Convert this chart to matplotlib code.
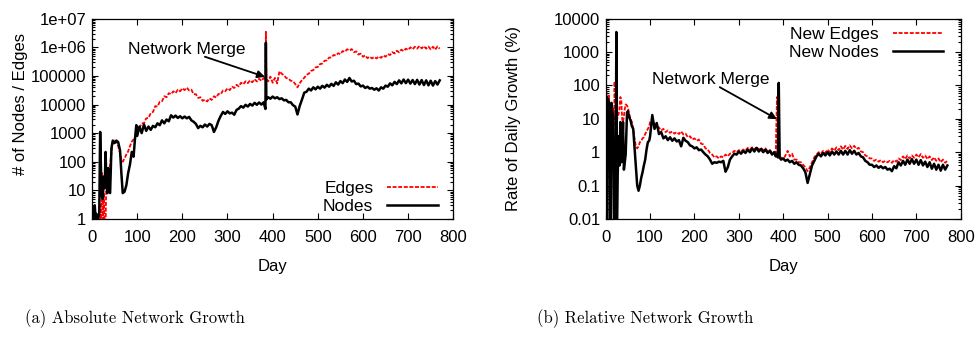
import numpy as np
import matplotlib
matplotlib.use("Agg")
import matplotlib.pyplot as plt
from matplotlib.ticker import FixedLocator, LogLocator, NullFormatter

plt.rcParams['font.family'] = ['Liberation Sans', 'DejaVu Sans']
plt.rcParams['font.size'] = 12

# ---- (a) absolute growth: total nodes / edges per day ----
early_a = [0, 2, 4, 6, 8, 10, 12, 14, 16, 18, 20, 22, 24, 26, 28, 30, 32, 34, 36,
           38, 40, 43, 46, 50, 54, 58, 62, 65, 68, 72, 76, 80, 84, 88, 92, 95, 98]
days_a = np.concatenate([early_a, np.arange(100, 381, 5), [384, 385, 386],
                         np.arange(390, 771, 5)])

edges = [0.3, 0.3, 0.3, 0.3, 0.3, 0.3, 0.3, 0.3, 0.3, 3, 0.4, 40, 0.5, 8, 0.4,
         0.5, 60, 30, 50, 40, 80, 200, 500, 550, 500, 350, 200, 120, 100, 130,
         180, 230, 350, 500, 600, 700, 900,
         # day 100 - 380
         1400, 1500, 2200, 2200, 3300, 3400, 5000, 5500, 8800, 8500,
         12500, 13000, 19500, 18000, 25000, 23000, 29000, 25000, 33000, 29000,
         37000, 32000, 39000, 31000, 33000, 23000, 23000, 17000, 18000, 13500,
         14800, 12800, 16500, 14500, 19500, 17500, 23500, 23000, 31000, 29000,
         37000, 32000, 42000, 38000, 49000, 43000, 58000, 51000, 65000, 56000,
         70000, 60000, 77000, 64000, 80000, 67000, 85000,
         # merge
         72000, 3.5e6, 80000,
         # day 390 - 770
         65000, 95000, 58000, 85000, 55000, 145000, 120000, 105000, 85000, 80000,
         68000, 66000, 52000, 40000, 56000, 72000, 86000, 110000, 120000, 150000,
         160000, 200000, 205000, 260000, 270000, 340000, 350000, 440000, 440000, 540000,
         520000, 620000, 580000, 740000, 700000, 860000, 770000, 870000, 680000, 720000,
         560000, 600000, 470000, 520000, 420000, 470000, 410000, 460000, 410000, 480000,
         430000, 520000, 470000, 580000, 540000, 680000, 610000, 760000, 670000, 830000,
         740000, 900000, 810000, 1.0e6, 860000, 1.05e6, 900000, 1.12e6, 920000, 1.1e6,
         900000, 1.07e6, 850000, 1.05e6, 830000, 1.08e6, 900000]

nodes = [2, 1, 1.3, 3, 1, 1.5, 0.8, 1.2, 1.5, 1100, 40, 6, 5, 30, 12, 220, 15,
         8, 60, 9, 8, 300, 550, 450, 550, 480, 250, 40, 8, 9, 15, 40, 80, 220,
         150, 600, 1900,
         # day 100 - 380
         800, 1700, 1000, 2000, 1200, 1700, 1300, 1800, 1600, 2200,
         1900, 2800, 2200, 3000, 2600, 4200, 3500, 4100, 3400, 3900,
         3300, 3800, 3300, 3700, 2800, 2500, 2100, 1500, 1800, 1600,
         2000, 1700, 2100, 1900, 1100, 1600, 2700, 4000, 5500, 4700,
         5800, 4900, 5200, 4400, 6500, 7200, 8800, 7800, 9800, 8500,
         10500, 9200, 11500, 9800, 11800, 10000, 12000,
         # merge
         7000, 1.45e6, 15000,
         # day 390 - 770
         18000, 16000, 19000, 16500, 18000, 15500, 16500, 14000, 14500, 12000,
         12000, 9500, 8500, 4500, 9000, 15000, 26000, 28000, 36000, 31000,
         40000, 34000, 42000, 36000, 45000, 39000, 49000, 42000, 53000, 45000,
         60000, 50000, 66000, 56000, 75000, 62000, 85000, 64000, 68000, 52000,
         54000, 43000, 46000, 38000, 42000, 36000, 38000, 33000, 37000, 31000,
         40000, 36000, 46000, 42000, 55000, 47000, 62000, 52000, 70000, 55000,
         75000, 56000, 74000, 54000, 72000, 52000, 73000, 50000, 72000, 48000,
         70000, 47000, 68000, 46000, 66000, 50000, 70000]

# ---- (b) relative growth: daily growth rate in percent ----
early_b = [0, 2, 3, 5, 7, 9, 11, 13, 15, 17, 19, 20, 22, 24, 25, 27, 29, 31, 33,
           35, 37, 39, 41, 43, 45, 48, 50, 53, 56, 59, 62, 65, 68, 71, 74, 77, 80,
           83, 86, 89, 92, 95, 98]
days_b = np.concatenate([early_b, np.arange(100, 381, 5), [383, 386, 388, 390, 392],
                         np.arange(395, 771, 5)])

new_edges = [100, 70, 0.003, 30, 50, 20, 12, 30, 9, 20, 10, 130, 6, 15, 8, 12, 14,
             20, 45, 38, 10, 8, 12, 20, 27, 25, 22, 14, 10, 8, 5, 2.5, 1.5, 1.3,
             1.5, 2, 2.2, 2.6, 2.8, 3.5, 4.2, 5, 6,
             # day 100 - 380
             8, 10, 7, 6, 5.5, 4.5, 5, 4, 4.5, 3.8,
             4.2, 3.6, 4, 3.5, 4.2, 3.4, 3.6, 2.8, 3, 2.4,
             2.6, 2.2, 2.4, 1.8, 1.7, 1.3, 1.2, 0.95, 0.85, 0.7,
             0.75, 0.65, 0.75, 0.7, 0.85, 0.75, 0.9, 0.95, 1.1, 1.0,
             1.15, 1.05, 1.2, 1.1, 1.35, 1.2, 1.4, 1.2, 1.45, 1.2,
             1.35, 1.15, 1.3, 1.05, 1.15, 0.95, 1.0,
             # merge
             0.8, 45, 0.7, 0.75, 0.65,
             # day 395 - 770
             0.7, 0.6, 0.8, 1.1, 0.75, 0.9, 0.6, 0.6, 0.5, 0.5,
             0.42, 0.35, 0.27, 0.35, 0.5, 0.7, 0.85, 1.0, 0.9, 1.1,
             0.95, 1.2, 1.0, 1.3, 1.1, 1.4, 1.15, 1.5, 1.2, 1.55,
             1.25, 1.6, 1.3, 1.55, 1.25, 1.35, 1.05, 1.0, 0.8, 0.75,
             0.65, 0.65, 0.55, 0.6, 0.52, 0.58, 0.5, 0.55, 0.5, 0.55,
             0.48, 0.58, 0.52, 0.65, 0.58, 0.75, 0.62, 0.8, 0.65, 0.8,
             0.68, 0.85, 0.7, 0.88, 0.68, 0.8, 0.62, 0.75, 0.58, 0.7,
             0.55, 0.65, 0.5, 0.6, 0.48, 0.55]

new_nodes = [55, 45, 0.001, 40, 30, 28, 0.001, 30, 15, 12, 0.001, 0.001, 0.001,
             4000, 0.001, 0.2, 3, 0.4, 8, 0.5, 1, 8, 0.3, 0.5, 0.85, 15, 17, 11,
             9, 6, 5, 1.4, 0.4, 0.1, 0.07, 0.1, 0.17, 0.25, 0.4, 0.6, 1.2, 2, 2.2,
             # day 100 - 380
             3, 13, 5, 7.5, 3.5, 4, 2.6, 3, 2.3, 2.8,
             2.2, 2.6, 2.1, 2.3, 1.5, 2.7, 2.2, 2.0, 1.6, 1.5,
             1.3, 1.4, 1.15, 1.2, 1.0, 0.85, 0.75, 0.6, 0.45, 0.5,
             0.48, 0.52, 0.5, 0.55, 0.26, 0.35, 0.6, 0.75, 0.9, 0.85,
             1.05, 0.9, 1.1, 0.95, 1.2, 1.0, 1.3, 1.05, 1.35, 1.05,
             1.25, 1.0, 1.2, 0.95, 1.1, 0.85, 1.0,
             # merge
             0.75, 0.9, 0.7, 120, 0.7,
             # day 395 - 770
             0.6, 0.65, 0.55, 0.6, 0.5, 0.55, 0.45, 0.5, 0.42, 0.4,
             0.33, 0.25, 0.12, 0.22, 0.4, 0.55, 0.75, 0.9, 0.75, 0.95,
             0.8, 1.0, 0.8, 1.05, 0.85, 1.05, 0.85, 1.1, 0.85, 1.1,
             0.85, 1.15, 0.9, 1.1, 0.85, 0.95, 0.75, 0.7, 0.55, 0.5,
             0.42, 0.42, 0.36, 0.4, 0.34, 0.38, 0.33, 0.36, 0.3, 0.32,
             0.27, 0.38, 0.33, 0.5, 0.4, 0.55, 0.42, 0.6, 0.45, 0.62,
             0.45, 0.6, 0.42, 0.58, 0.4, 0.52, 0.36, 0.5, 0.32, 0.45,
             0.3, 0.42, 0.28, 0.42, 0.3, 0.4]

abs_ticks = [1, 10, 100, 1000, 1e4, 1e5, 1e6, 1e7]
abs_labels = ['1', '10', '100', '1000', '10000', '100000', '1e+06', '1e+07']
rel_ticks = [0.01, 0.1, 1, 10, 100, 1000, 10000]
rel_labels = ['0.01', '0.1', '1', '10', '100', '1000', '10000']
day_ticks = [0, 100, 200, 300, 400, 500, 600, 700, 800]

red_style = dict(color='#ff0000', lw=1.3, linestyle=(0, (2.2, 0.9)))
black_style = dict(color='black', lw=1.8)
arrow = dict(arrowstyle='-|>', color='black', lw=1.3, mutation_scale=11,
             shrinkA=0, shrinkB=0)


def style_axis(ax, ticks, labels, ylim):
    ax.set_yscale('log')
    ax.set_xlim(0, 800)
    ax.set_ylim(*ylim)
    ax.xaxis.set_major_locator(FixedLocator(day_ticks))
    ax.yaxis.set_major_locator(FixedLocator(ticks))
    ax.set_yticklabels(labels)
    ax.yaxis.set_minor_locator(LogLocator(base=10, subs=np.arange(2, 10), numticks=20))
    ax.yaxis.set_minor_formatter(NullFormatter())
    ax.tick_params(which='both', direction='in', top=True, right=True, width=0.8)
    ax.tick_params(which='major', length=4, labelsize=12)
    ax.tick_params(which='minor', length=2)
    ax.tick_params(axis='x', pad=8)
    ax.tick_params(axis='y', pad=4)
    for s in ax.spines.values():
        s.set_linewidth(0.9)
    ax.set_xlabel('Day', labelpad=10)


fig = plt.figure(figsize=(9.79, 3.41), dpi=100)
ax1 = fig.add_axes([0.094, 0.358, 0.369, 0.587])
ax2 = fig.add_axes([0.6187, 0.358, 0.3626, 0.587])

ax1.plot(days_a, edges, label='Edges', **red_style)
ax1.plot(days_a, nodes, label='Nodes', **black_style)
style_axis(ax1, abs_ticks, abs_labels, (1, 1e7))
ax1.set_ylabel('# of Nodes / Edges')
ax1.yaxis.set_label_coords(-0.178, 0.575)
ax1.text(80, 8.3e5, 'Network Merge', ha='left', va='center', fontsize=12.5)
ax1.annotate('', xy=(383, 9.3e4), xytext=(250, 4.7e5), arrowprops=arrow)
ax1.legend(loc='lower right', bbox_to_anchor=(0.99, -0.035), frameon=False,
           markerfirst=False, handlelength=2.9, handletextpad=0.8,
           labelspacing=0.15, borderpad=0.2, fontsize=12.5)

ax2.plot(days_b, new_edges, label='New Edges', **red_style)
ax2.plot(days_b, new_nodes, label='New Nodes', **black_style)
style_axis(ax2, rel_ticks, rel_labels, (0.01, 1e4))
ax2.set_ylabel('Rate of Daily Growth (%)')
ax2.yaxis.set_label_coords(-0.239, 0.5)
ax2.text(104, 155, 'Network Merge', ha='left', va='center', fontsize=12.5)
ax2.annotate('', xy=(386, 9.8), xytext=(257, 89), arrowprops=arrow)
ax2.legend(loc='upper right', bbox_to_anchor=(0.985, 1.02), frameon=False,
           markerfirst=False, handlelength=2.9, handletextpad=0.8,
           labelspacing=0.15, borderpad=0.2, fontsize=12.5)

fig.text(0.138, 0.065, '(a) Absolute Network Growth', family='cmr10',
         fontsize=12, ha='center', va='center')
fig.text(0.659, 0.065, '(b) Relative Network Growth', family='cmr10',
         fontsize=12, ha='center', va='center')

fig.savefig('out.png', dpi=100)
